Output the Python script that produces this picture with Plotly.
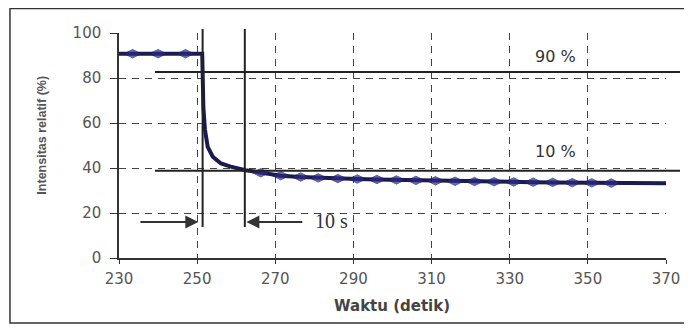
import plotly.graph_objects as go

# ---- data ----
time_s = [230, 233.5, 240, 247, 251.3, 251.6, 252.0, 252.7, 254.0, 256.1, 258.6, 262.4,
          266.3, 271.4, 276.5, 281, 286, 291, 296, 301, 306, 311, 316, 321, 326,
          331, 336, 341, 346, 351, 356, 360, 365, 370]
intensity = [90.8, 90.8, 90.8, 90.8, 90.8, 66.7, 57.0, 49.4, 45.0, 42.0, 40.6, 39.0,
             37.9, 36.6, 36.0, 35.6, 35.3, 35.1, 34.9, 34.7, 34.5, 34.3, 34.1, 34.0, 33.9,
             33.8, 33.7, 33.6, 33.5, 33.4, 33.3, 33.2, 33.2, 33.2]

x_ticks = [230, 250, 270, 290, 310, 330, 350, 370]
y_ticks = [0, 20, 40, 60, 80, 100]

level_90 = 82.7          # 90 % threshold line
level_10 = 38.8          # 10 % threshold line
t_start = 251.4          # vertical marker lines
t_end = 262.2
arrow_y = 16

fig = go.Figure()

blob_sizes = [12 if (230 < t < 251) or (263 < t < 358) else 0 for t in time_s]

fig.add_trace(go.Scatter(
    x=time_s, y=intensity, mode="lines+markers",
    line=dict(color="#1b1b4f", width=4),
    marker=dict(symbol="diamond-wide", size=blob_sizes, color="#2a2a8e",
                line=dict(color="#1b1b4f", width=1)),
    showlegend=False, hoverinfo="skip",
))

shapes = []
for lvl in (level_90, level_10):
    shapes.append(dict(type="line", xref="paper", yref="y", x0=0.0658, x1=1.0256,
                       y0=lvl, y1=lvl, line=dict(color="#222", width=2)))
for t in (t_start, t_end):
    shapes.append(dict(type="line", xref="x", yref="paper", x0=t, x1=t,
                       y0=0.138, y1=1.018, line=dict(color="#222", width=2)))
# outer frame
shapes.append(dict(type="rect", xref="paper", yref="paper", x0=-0.1993, x1=1.0439,
                   y0=-0.289, y1=1.109, line=dict(color="#333", width=1.5)))

annotations = [
    dict(x=341.7, y=89.4, text="90 %", showarrow=False,
         font=dict(family="DejaVu Sans", size=16, color="#333")),
    dict(x=341.7, y=47.2, text="10 %", showarrow=False,
         font=dict(family="DejaVu Sans", size=16, color="#333")),
    dict(x=284.5, y=16.5, text="10 s", showarrow=False,
         font=dict(family="Liberation Serif", size=20, color="#333")),
    dict(x=250.3, y=arrow_y, ax=235.1, ay=arrow_y, axref="x", ayref="y",
         text="", showarrow=True, arrowhead=2, arrowsize=1.3, arrowwidth=2,
         arrowcolor="#333"),
    dict(x=262.6, y=arrow_y, ax=277.3, ay=arrow_y, axref="x", ayref="y",
         text="", showarrow=True, arrowhead=2, arrowsize=1.3, arrowwidth=2,
         arrowcolor="#333"),
    dict(xref="paper", yref="paper", x=0.499, y=-0.212, xanchor="center", yanchor="middle",
         text="<b>Waktu (detik)</b>",
         showarrow=False, font=dict(family="DejaVu Sans", size=15, color="#444")),
    dict(xref="paper", yref="paper", x=-0.1413, y=0.547, xanchor="center", yanchor="middle",
         text="<b>Intensitas relatif (%)</b>",
         textangle=-90, showarrow=False,
         font=dict(family="Liberation Sans", size=12.5, color="#555")),
]

fig.update_layout(
    width=684, height=316,
    margin=dict(l=111, r=26, t=25, b=66),
    paper_bgcolor="white", plot_bgcolor="white",
    shapes=shapes, annotations=annotations,
    xaxis=dict(range=[230, 370], tickvals=x_ticks, showgrid=True,
               gridcolor="#444", griddash="7px,6px", gridwidth=1,
               showline=True, linecolor="#333", linewidth=1.5,
               ticks="outside", ticklen=4, tickcolor="#333",
               ticklabelstandoff=2, zeroline=False,
               tickfont=dict(family="DejaVu Sans", size=15, color="#555")),
    yaxis=dict(range=[0, 100], tickvals=y_ticks, showgrid=True,
               gridcolor="#444", griddash="7px,6px", gridwidth=1,
               showline=True, linecolor="#333", linewidth=1.5,
               ticks="outside", ticklen=7, tickcolor="#333",
               ticklabelstandoff=6, zeroline=False,
               tickfont=dict(family="DejaVu Sans", size=15, color="#555")),
)

fig.write_html("out.html")
